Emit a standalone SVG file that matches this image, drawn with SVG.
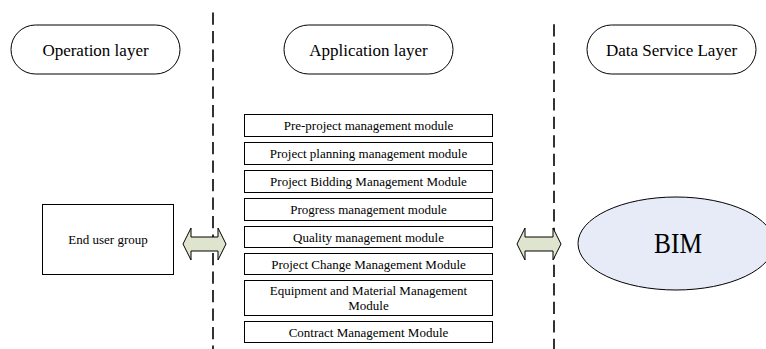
<svg xmlns="http://www.w3.org/2000/svg" width="766" height="349" viewBox="0 0 766 349">
<style>
.pill{fill:#fff;stroke:#000;stroke-width:1}
.box{fill:#fff;stroke:#000;stroke-width:1}
.dash{stroke:#000;stroke-width:1.6;stroke-dasharray:12.3 6.2;fill:none}
.arr{fill:#dfe4cf;stroke:#000;stroke-width:1}
</style>
<g id="operation-layer">
<rect class="pill" x="11" y="25" width="169" height="49" rx="24.5"/>
<text x="95.5" y="55.5" font-family="'Liberation Serif','Times New Roman',serif" font-size="17" text-anchor="middle">Operation layer</text>
</g>
<g id="application-layer">
<rect class="pill" x="284" y="25" width="169" height="49" rx="24.5"/>
<text x="368.5" y="55.5" font-family="'Liberation Serif','Times New Roman',serif" font-size="17" text-anchor="middle">Application layer</text>
</g>
<g id="data-service-layer">
<rect class="pill" x="587" y="25" width="169" height="49" rx="24.5"/>
<text x="671.5" y="55.5" font-family="'Liberation Serif','Times New Roman',serif" font-size="17" text-anchor="middle">Data Service Layer</text>
</g>
<g id="end-user-group">
<rect class="box" x="42.5" y="204.5" width="131" height="70"/>
<text x="108" y="244" font-family="'Liberation Serif','Times New Roman',serif" font-size="13" text-anchor="middle">End user group</text>
</g>
<g font-family="'Liberation Serif','Times New Roman',serif" font-size="13" text-anchor="middle">
<g id="m1"><rect class="box" x="244.5" y="114.5" width="248" height="22"/><text x="368.5" y="130">Pre-project management module</text></g>
<g id="m2"><rect class="box" x="244.5" y="142.5" width="248" height="22"/><text x="368.5" y="158">Project planning management module</text></g>
<g id="m3"><rect class="box" x="244.5" y="170.5" width="248" height="22"/><text x="368.5" y="186">Project Bidding Management Module</text></g>
<g id="m4"><rect class="box" x="244.5" y="198.5" width="248" height="22"/><text x="368.5" y="214">Progress management module</text></g>
<g id="m5"><rect class="box" x="244.5" y="226.5" width="248" height="21"/><text x="368.5" y="241.5">Quality management module</text></g>
<g id="m6"><rect class="box" x="244.5" y="253.5" width="248" height="21"/><text x="368.5" y="268.5">Project Change Management Module</text></g>
<g id="m7"><rect class="box" x="244.5" y="280.5" width="248" height="35"/><text x="368.5" y="295">Equipment and Material Management</text><text x="368.5" y="310">Module</text></g>
<g id="m8"><rect class="box" x="244.5" y="321.5" width="248" height="21"/><text x="368.5" y="336.5">Contract Management Module</text></g>
</g>
<g id="bim">
<ellipse cx="676" cy="243.5" rx="98" ry="46.5" fill="#e6ebf7" stroke="#000" stroke-width="1"/>
<text x="678" y="253" font-family="'Liberation Serif','Times New Roman',serif" font-size="29" text-anchor="middle" textLength="48" lengthAdjust="spacingAndGlyphs">BIM</text>
</g>
<g id="connectors">
<line class="dash" x1="213" y1="12.5" x2="213" y2="349"/>
<line class="dash" x1="554" y1="24.3" x2="554" y2="349"/>
<path class="arr" d="M183,244 L191,228 L191,237 L218,237 L218,228 L226,244 L218,260 L218,251 L191,251 L191,260 Z"/>
<path class="arr" d="M517,244 L525,228 L525,237 L553,237 L553,228 L561,244 L553,260 L553,251 L525,251 L525,260 Z"/>
</g>
</svg>
